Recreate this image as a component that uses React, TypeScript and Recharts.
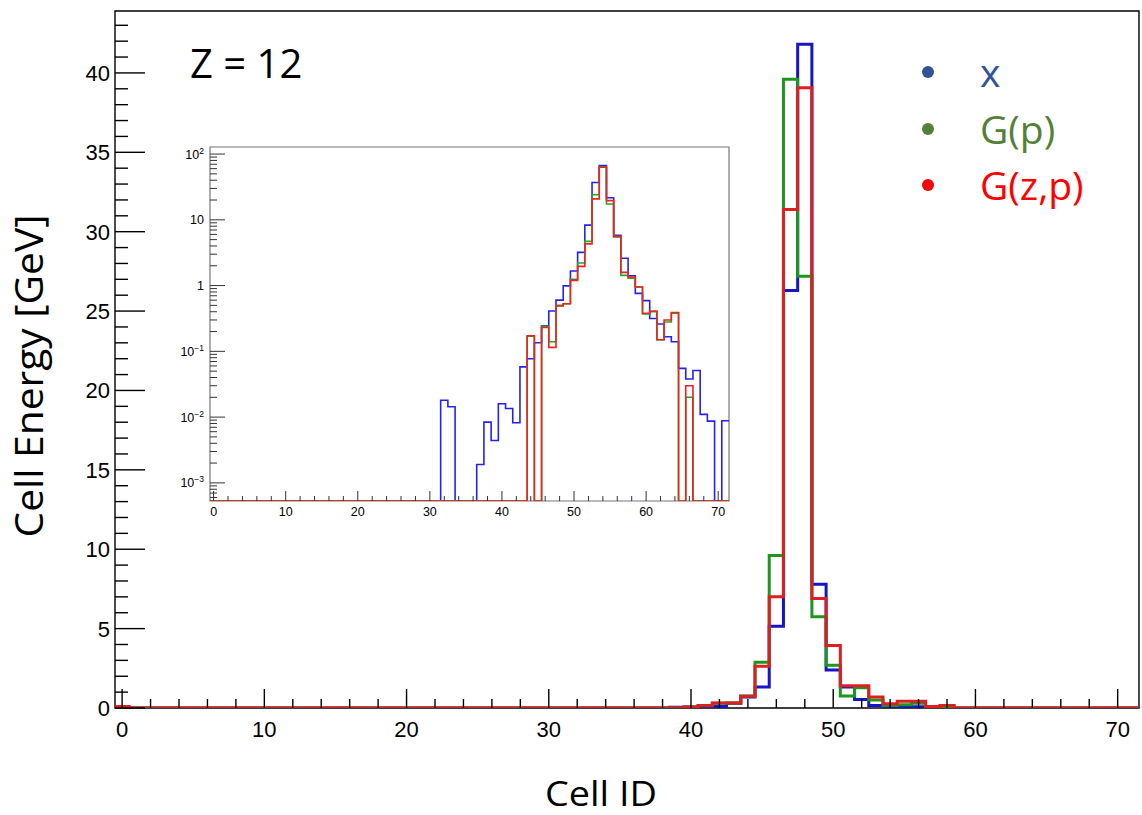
import React from 'react';
import { ComposedChart, LineChart, Line, XAxis, YAxis, ReferenceArea } from 'recharts';

const cellIds = Array.from({ length: 72 }, (_, i) => i);

// main panel: cell energy in GeV, one value per cell 0..71
const energyX = [
  0, 0, 0, 0, 0, 0, 0, 0, 0, 0, 0, 0,
  0, 0, 0, 0, 0, 0, 0, 0, 0, 0, 0, 0,
  0, 0, 0, 0, 0, 0, 0, 0, 0, 0, 0, 0,
  0, 0, 0, 0.04, 0.06, 0.05, 0.1, 0.3, 0.7, 1.32, 5.15, 26.3,
  41.8, 7.8, 2.4, 1.32, 0.53, 0.15, 0.06, 0.1, 0.08, 0.02, 0, 0,
  0, 0, 0, 0, 0, 0, 0, 0, 0, 0, 0, 0,
];
const energyGp = [
  0, 0, 0, 0, 0, 0, 0, 0, 0, 0, 0, 0,
  0, 0, 0, 0, 0, 0, 0, 0, 0, 0, 0, 0,
  0, 0, 0, 0, 0, 0, 0, 0, 0, 0, 0, 0,
  0, 0, 0, 0, 0.05, 0.14, 0.3, 0.32, 0.76, 2.88, 9.6, 39.6,
  27.2, 5.74, 2.7, 0.75, 1.28, 0.5, 0.15, 0.2, 0.3, 0.1, 0.1, 0,
  0, 0, 0, 0, 0, 0, 0, 0, 0, 0, 0, 0,
];
const energyGzp = [
  0.1, 0, 0, 0, 0, 0, 0, 0, 0, 0, 0, 0,
  0, 0, 0, 0, 0, 0, 0, 0, 0, 0, 0, 0,
  0, 0, 0, 0, 0, 0, 0, 0, 0, 0, 0, 0,
  0, 0, 0, 0, 0.06, 0.15, 0.32, 0.32, 0.74, 2.63, 7.0, 31.4,
  39.06, 6.9, 3.93, 1.4, 1.4, 0.69, 0.27, 0.42, 0.42, 0.1, 0.15, 0,
  0, 0, 0, 0, 0, 0, 0, 0, 0, 0, 0, 0,
];

// inset: log-scale view of another shower
const insetX = [
  0, 0, 0, 0, 0, 0, 0, 0, 0, 0, 0, 0,
  0, 0, 0, 0, 0, 0, 0, 0, 0, 0, 0, 0,
  0, 0, 0, 0, 0, 0, 0, 0, 0.018, 0.0144, 0, 0,
  0, 0.0019, 0.0084, 0.0044, 0.016, 0.0135, 0.0082, 0.058, 0.077, 0.135, 0.245, 0.41,
  0.6, 0.99, 1.67, 3.2, 8.3, 37, 67, 21.6, 5.8, 2.6, 1.41, 0.76,
  0.59, 0.316, 0.26, 0.167, 0.14, 0.055, 0.038, 0.051, 0.011, 0.0087, 0, 0.0088,
];
const insetGp = [
  0, 0, 0, 0, 0, 0, 0, 0, 0, 0, 0, 0,
  0, 0, 0, 0, 0, 0, 0, 0, 0, 0, 0, 0,
  0, 0, 0, 0, 0, 0, 0, 0, 0, 0, 0, 0,
  0, 0, 0, 0, 0, 0, 0, 0, 0.17, 0, 0.24, 0.14,
  0.5, 0.53, 1.25, 2.2, 4.7, 24, 64, 17.4, 5.5, 1.43, 1.3, 0.95,
  0.37, 0.4, 0.15, 0.28, 0.38, 0, 0.02, 0, 0, 0, 0, 0,
];
const insetGzp = [
  0, 0, 0, 0, 0, 0, 0, 0, 0, 0, 0, 0,
  0, 0, 0, 0, 0, 0, 0, 0, 0, 0, 0, 0,
  0, 0, 0, 0, 0, 0, 0, 0, 0, 0, 0, 0,
  0, 0, 0, 0, 0, 0, 0, 0, 0.173, 0, 0.23, 0.115,
  0.49, 0.53, 1.2, 1.96, 4.3, 20.8, 63, 19.6, 5.6, 1.59, 1.35, 0.95,
  0.38, 0.41, 0.15, 0.3, 0.39, 0, 0.03, 0, 0, 0, 0, 0,
];

const mainXTicks = [0, 2, 4, 6, 8, 10, 12, 14, 16, 18, 20, 22, 24, 26, 28, 30, 32, 34, 36, 38, 40, 42, 44, 46, 48, 50, 52, 54, 56, 58, 60, 62, 64, 66, 68, 70];
const mainYTicks = [0, 1, 2, 3, 4, 5, 6, 7, 8, 9, 10, 11, 12, 13, 14, 15, 16, 17, 18, 19, 20, 21, 22, 23, 24, 25, 26, 27, 28, 29, 30, 31, 32, 33, 34, 35, 36, 37, 38, 39, 40, 41, 42, 43];
const insetXTicks = mainXTicks;
const insetDecades = [-3, -2, -1, 0, 1, 2];

const seriesNames = ['x', 'G(p)', 'G(z,p)'];
const legendColors = ['#2F5597', '#538135', '#FF0000'];

const MAIN_Y_MAX = 43.9;
const INSET_MIN = 5.3e-4;
const INSET_MAX = 128;

const edges = [...cellIds.map((i) => i - 0.5), cellIds.length - 0.5];
const binAt = (k: number) => Math.min(k, cellIds.length - 1);

const mainRows = edges.map((edge, k) => ({
  edge,
  x: energyX[binAt(k)],
  gp: energyGp[binAt(k)],
  gzp: energyGzp[binAt(k)],
}));

const floorLog = (v: number) => (v > 0 ? v : INSET_MIN);
const insetRows = edges.map((edge, k) => ({
  edge,
  x: floorLog(insetX[binAt(k)]),
  gp: floorLog(insetGp[binAt(k)]),
  gzp: floorLog(insetGzp[binAt(k)]),
}));

const insetYTicks: number[] = [];
insetDecades.forEach((d) => {
  for (let m = 1; m <= 9; m++) {
    const v = m * Math.pow(10, d);
    if (v >= INSET_MIN && v <= INSET_MAX) insetYTicks.push(v);
  }
});
[6, 7, 8, 9].forEach((m) => insetYTicks.push(m * 1e-4));
insetYTicks.sort((a, b) => a - b);

const helv = "'Liberation Sans', Arial, Helvetica, sans-serif";
const office = "'Open Sans', 'Noto Sans', sans-serif";

const MainXTick = (props: any) => {
  const { x, y, payload } = props;
  const major = payload.value % 10 === 0;
  return (
    <g>
      <line x1={x} x2={x} y1={y} y2={y - (major ? 19 : 9)} stroke="#000" strokeWidth={1.4} />
      {major && (
        <text x={x} y={y + 29} textAnchor="middle" fontSize={22} fontFamily={helv} fill="#000">
          {payload.value}
        </text>
      )}
    </g>
  );
};

const MainYTick = (props: any) => {
  const { x, y, payload } = props;
  const major = payload.value % 5 === 0;
  return (
    <g>
      <line x1={x} x2={x + (major ? 30 : 13)} y1={y} y2={y} stroke="#000" strokeWidth={1.4} />
      {major && (
        <text x={x - 5} y={y + 8} textAnchor="end" fontSize={22} fontFamily={helv} fill="#000">
          {payload.value}
        </text>
      )}
    </g>
  );
};

const InsetXTick = (props: any) => {
  const { x, y, payload } = props;
  const major = payload.value % 10 === 0;
  return (
    <g>
      <line x1={x} x2={x} y1={y} y2={y - (major ? 10 : 5)} stroke="#333" strokeWidth={1} />
      {major && (
        <text x={x} y={y + 15} textAnchor="middle" fontSize={12.5} fontFamily={helv} fill="#000">
          {payload.value}
        </text>
      )}
    </g>
  );
};

const InsetYTick = (props: any) => {
  const { x, y, payload } = props;
  const exp = Math.round(Math.log10(payload.value));
  const decade = Math.abs(Math.log10(payload.value) - exp) < 1e-6;
  let label: React.ReactNode = null;
  if (decade) {
    if (exp === 0) label = '1';
    else if (exp === 1) label = '10';
    else
      label = (
        <>
          10
          <tspan dy={-5} fontSize={8.5}>
            {exp < 0 ? `\u2212${-exp}` : exp}
          </tspan>
        </>
      );
  }
  return (
    <g>
      <line x1={x} x2={x + (decade ? 15 : 7)} y1={y} y2={y} stroke="#333" strokeWidth={1} />
      {decade && (
        <text x={x - 6} y={y + 4.5} textAnchor="end" fontSize={12.5} fontFamily={helv} fill="#000">
          {label}
        </text>
      )}
    </g>
  );
};

const LegendBox = () => (
  <div style={{ position: 'absolute', left: 922, top: 44, fontFamily: office, fontSize: 39 }}>
    {seriesNames.map((name, i) => (
      <div key={name} style={{ display: 'flex', alignItems: 'center', height: 56.5 }}>
        <span
          style={{
            display: 'inline-block',
            width: 12,
            height: 12,
            borderRadius: 6,
            background: legendColors[i],
            marginRight: 46,
          }}
        />
        <span style={{ color: legendColors[i], lineHeight: '56px' }}>{name}</span>
      </div>
    ))}
  </div>
);

export default function App() {
  return (
    <div style={{ position: 'absolute', left: 0, top: 0, width: 1142, height: 815, background: '#fff', overflow: 'hidden' }}>
      <ComposedChart width={1142} height={815} data={mainRows} margin={{ top: 11, right: 3, bottom: 0, left: 0 }}>
        <XAxis
          dataKey="edge"
          type="number"
          domain={[-0.5, 71.5]}
          allowDataOverflow
          ticks={mainXTicks}
          interval={0}
          tick={<MainXTick />}
          tickSize={0}
          tickMargin={0}
          tickLine={false}
          axisLine={false}
          height={107}
        />
        <YAxis
          type="number"
          domain={[0, MAIN_Y_MAX]}
          allowDataOverflow
          ticks={mainYTicks}
          interval={0}
          tick={<MainYTick />}
          tickSize={0}
          tickMargin={0}
          tickLine={false}
          axisLine={false}
          width={115}
        />
        <ReferenceArea x1={-0.5} x2={71.5} y1={0} y2={MAIN_Y_MAX} fill="none" stroke="#000" strokeWidth={1.4} ifOverflow="visible" />
        <Line dataKey="x" name={seriesNames[0]} type="stepAfter" stroke="#1414c8" strokeWidth={3} dot={false} isAnimationActive={false} />
        <Line dataKey="gp" name={seriesNames[1]} type="stepAfter" stroke="#1c961c" strokeWidth={3} dot={false} isAnimationActive={false} />
        <Line dataKey="gzp" name={seriesNames[2]} type="stepAfter" stroke="#de1f1f" strokeWidth={3} dot={false} isAnimationActive={false} />
      </ComposedChart>

      <LegendBox />

      <svg width={1142} height={815} style={{ position: 'absolute', left: 0, top: 0, pointerEvents: 'none' }}>
        <text x={190} y={78} fontFamily={office} fontSize={40} fill="#000">
          Z = 12
        </text>
        <text x={601} y={806} textAnchor="middle" fontFamily={office} fontSize={35} textLength={112} lengthAdjust="spacingAndGlyphs" fill="#000">
          Cell ID
        </text>
        <text
          x={43}
          y={376}
          textAnchor="middle"
          fontFamily={office}
          fontSize={39}
          textLength={323}
          lengthAdjust="spacingAndGlyphs"
          fill="#000"
          transform="rotate(-90 43 376)"
        >
          Cell Energy [GeV]
        </text>
      </svg>

      <div style={{ position: 'absolute', left: 170, top: 140 }}>
        <LineChart width={570} height={386} data={insetRows} margin={{ top: 7, right: 11, bottom: 0, left: 0 }}>
          <XAxis
            dataKey="edge"
            type="number"
            domain={[-0.5, 71.5]}
            allowDataOverflow
            ticks={insetXTicks}
            interval={0}
            tick={<InsetXTick />}
            tickSize={0}
            tickMargin={0}
            tickLine={false}
            axisLine={false}
            height={25}
          />
          <YAxis
            type="number"
            scale="log"
            domain={[INSET_MIN, INSET_MAX]}
            allowDataOverflow
            ticks={insetYTicks}
            interval={0}
            tick={<InsetYTick />}
            tickSize={0}
            tickMargin={0}
            tickLine={false}
            axisLine={false}
            width={40}
          />
          <ReferenceArea x1={-0.5} x2={71.5} y1={INSET_MIN} y2={INSET_MAX} fill="#fff" stroke="#777" strokeWidth={1.2} ifOverflow="visible" />
          <Line dataKey="x" type="stepAfter" stroke="#2323f0" strokeWidth={1.6} dot={false} isAnimationActive={false} />
          <Line dataKey="gp" type="stepAfter" stroke="#1faa1f" strokeWidth={1.6} dot={false} isAnimationActive={false} />
          <Line dataKey="gzp" type="stepAfter" stroke="#f42020" strokeWidth={1.6} dot={false} isAnimationActive={false} />
        </LineChart>
      </div>
    </div>
  );
}
